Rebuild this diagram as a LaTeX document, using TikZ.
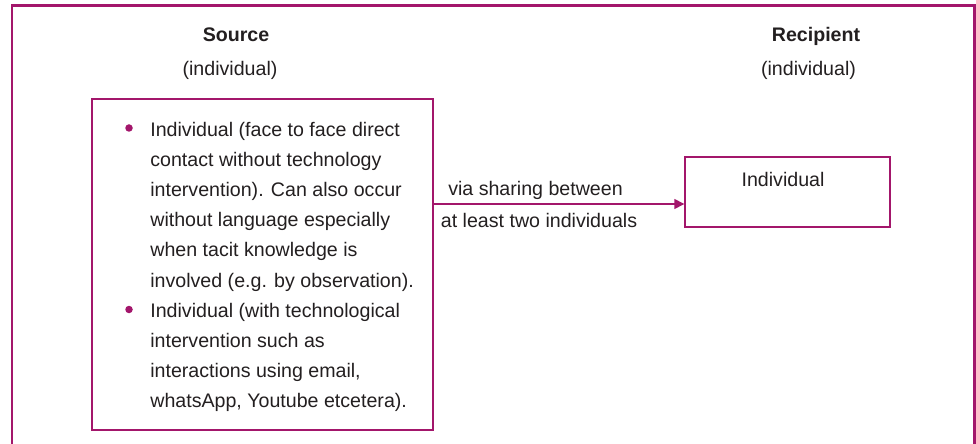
\documentclass[tikz,border=0pt]{standalone}
\usepackage{fontspec}
\setmainfont{Liberation Sans}
\usetikzlibrary{arrows.meta, positioning}
\definecolor{plum}{RGB}{163,22,107}
\definecolor{ink}{RGB}{35,31,32}

\begin{document}
\begin{tikzpicture}[
  txt/.style={font=\fontsize{11.16pt}{17.2pt}\selectfont, text=ink, inner sep=0pt},
  head/.style={txt, font=\fontsize{11.16pt}{17.2pt}\selectfont\bfseries, anchor=base},
  box/.style={draw=plum, line width=0.8pt, inner sep=0pt},
  dot/.style={circle, fill=plum, inner sep=0pt, minimum size=0.15cm},
  flow/.style={draw=plum, line width=0.8pt, -{Triangle[length=0.2cm, width=0.2cm]}}
]
\useasboundingbox (0,0) rectangle (19.52,8.86);
\clip (0,0) rectangle (19.52,8.86);
\draw[plum, line width=1.7pt] (0.24,-0.5) -- (0.24,8.75) -- (19.48,8.75) -- (19.48,-0.5);
\node[head] (srchead) at (4.72,8.02) {Source};
\node[txt, anchor=base] (srcsub) at (4.6,7.34) {(individual)};
\node[head] (rcphead) at (16.32,8.02) {Recipient};
\node[txt, anchor=base] (rcpsub) at (16.17,7.34) {(individual)};
\node[box, minimum width=6.82cm, minimum height=6.62cm] (src) at (5.25,3.57) {};
\node[box, minimum width=4.1cm, minimum height=1.4cm] (rcp) at (15.75,5.02) {};
\node[txt, anchor=base] (rcptxt) at (15.66,5.12) {Individual};
\node[dot] (b1) at (2.58,6.30) {};
\node[dot] (b2) at (2.58,2.67) {};
\node[txt, align=left, anchor=north west] (item1) at (3.0,6.43) {Individual (face to face direct\\contact without technology\\intervention). Can also occur\\without language especially\\when tacit knowledge is\\involved (e.g. by observation).};
\node[txt, align=left, anchor=north west] (item2) at (3.0,2.81) {Individual (with technological\\intervention such as\\interactions using email,\\whatsApp, Youtube etcetera).};
\coordinate (lvl) at (0,4.78);
\draw[flow] (src.east |- lvl) -- (rcp.west |- lvl);
\node[txt, anchor=base] (via) at (10.71,4.94) {via sharing between};
\node[txt, anchor=base] (least) at (10.78,4.30) {at least two individuals};
\end{tikzpicture}
\end{document}
